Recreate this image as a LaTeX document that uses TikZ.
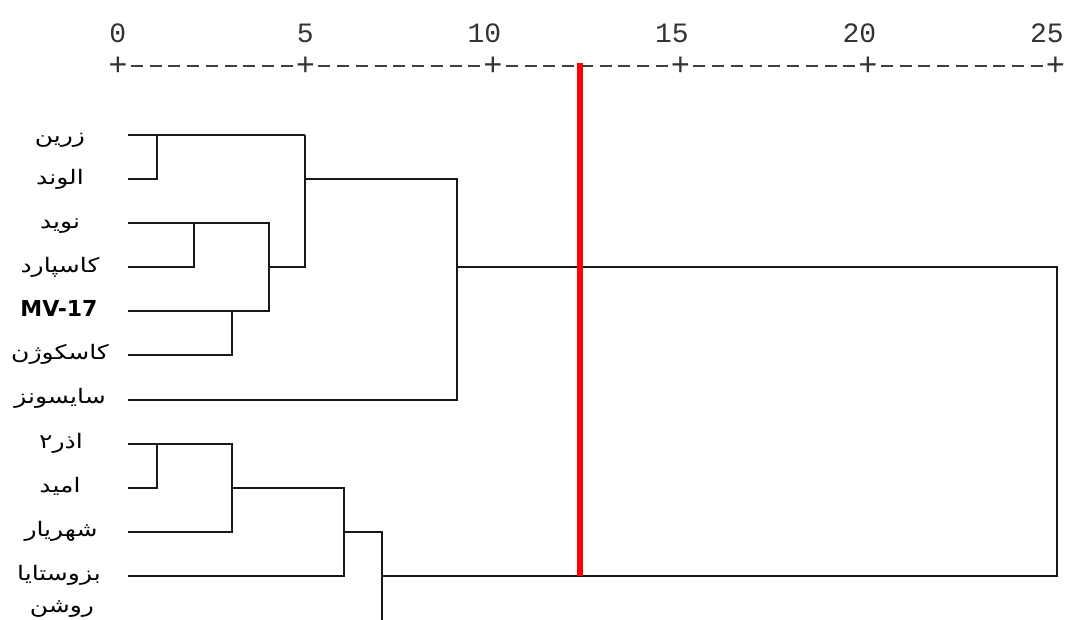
\documentclass[tikz,border=0pt]{standalone}
\usepackage{fontspec}
\newfontfamily\fa[Script=Arabic]{DejaVu Sans}
\newfontfamily\lat{DejaVu Sans}
\newfontfamily\mono[Ligatures=TeXOff]{Liberation Mono}
\TeXXeTstate=1
\newcommand{\fatext}[1]{\scalebox{1.25}[1]{\beginR #1\endR}}
\begin{document}
\begin{tikzpicture}[x=1pt,y=-1pt,
  tree/.style={line width=2.1pt, draw=black!90, line join=miter},
  cutline/.style={line width=5.5pt, draw=red},
  lab/.style={font=\fa\fontsize{20}{20}\selectfont, inner sep=0pt, anchor=base},
  latlab/.style={font=\lat\bfseries\fontsize{22}{22}\selectfont, inner sep=0pt, anchor=base},
  num/.style={font=\mono\fontsize{28}{28}\selectfont, inner sep=0pt, anchor=base east, text=black!80},
  plus/.style={font=\mono\fontsize{32}{32}\selectfont, inner sep=0pt, anchor=center, text=black!80},
  dashes/.style={line width=2.2pt, draw=black!75, dash pattern=on 12pt off 6.75pt}]
\useasboundingbox (0,0) rectangle (1068,619);
\fill[white] (0,0) rectangle (1068,619);
\clip (0,0) rectangle (1068,619);

% axis: tick marks, numbers and dashes
\foreach \v/\x in {0/118,5/305.5,10/493,15/680.5,20/868,25/1055.5}{
  \node[plus] (p\v) at (\x,66) {+};
  \node[num] (t\v) at (\x+8.4,42) {\v};
}
\foreach \a/\b in {0/5,5/10,10/15,15/20,20/25}
  \draw[dashes] ([xshift=12.75pt]p\a.center) -- ([xshift=-12.75pt]p\b.center);

% leaf line starts
\foreach \i/\y in {1/135,2/179,3/223,4/267,5/311,6/355,7/400,8/444,9/488,10/532,11/576,12/620}
  \coordinate (l\i) at (128,\y);

% labels
\node[lab] (n1) at (60,142.5) {\fatext{زرین}};
\node[lab] (n2) at (60,184.5) {\fatext{الوند}};
\node[lab] (n3) at (60,228) {\fatext{نوید}};
\node[lab] (n4) at (60,272) {\fatext{کاسپارد}};
\node[latlab] (n5) at (59,316) {MV-17};
\node[lab] (n6) at (60,359.5) {\fatext{کاسکوژن}};
\node[lab] (n7) at (60,403.5) {\fatext{سایسونز}};
\node[lab] (n8) at (61,448.5) {\fatext{اذر۲}};
\node[lab] (n9) at (60,492.5) {\fatext{امید}};
\node[lab] (n10) at (61,536.5) {\fatext{شهریار}};
\node[lab] (n11) at (59,580.5) {\fatext{بزوستایا}};
\node[lab] (n12) at (62,612) {\fatext{روشن}};

% merge levels (x positions)
\coordinate (c1) at (157,0);
\coordinate (c2) at (194,0);
\coordinate (c3) at (232,0);
\coordinate (c4) at (269,0);
\coordinate (c5) at (305,0);
\coordinate (c6) at (344,0);
\coordinate (c7) at (382,0);
\coordinate (c8) at (457,0);
\coordinate (c9) at (1057,0);
\coordinate (cut) at (580,0);
\coordinate (cuttop) at (580,63);

% upper group
\draw[tree] (l1) -- (l1 -| c5);
\draw[tree] (l2) -- (l2 -| c1) -- (l1 -| c1);
\draw[tree] (l3) -- (l3 -| c4) -- (l5 -| c4) -- (l5);
\draw[tree] (l4) -- (l4 -| c2) -- (l3 -| c2);
\draw[tree] (l6) -- (l6 -| c3) -- (l5 -| c3);
\draw[tree] (l4 -| c4) -- (l4 -| c5) -- (l1 -| c5);
\draw[tree] (l2 -| c5) -- (l2 -| c8) -- (l7 -| c8) -- (l7);
% root
\draw[tree] (l4 -| c8) -- (l4 -| c9) -- (l11 -| c9) -- (l11 -| c7);
% lower group
\draw[tree] (l8) -- (l8 -| c3) -- (l10 -| c3) -- (l10);
\draw[tree] (l9) -- (l9 -| c1) -- (l8 -| c1);
\draw[tree] (l9 -| c3) -- (l9 -| c6) -- (l11 -| c6) -- (l11);
\draw[tree] (l10 -| c6) -- (l10 -| c7) -- (l12 -| c7);

% cut line
\draw[cutline] (cuttop) -- (l11 -| cut);
\end{tikzpicture}
\end{document}
